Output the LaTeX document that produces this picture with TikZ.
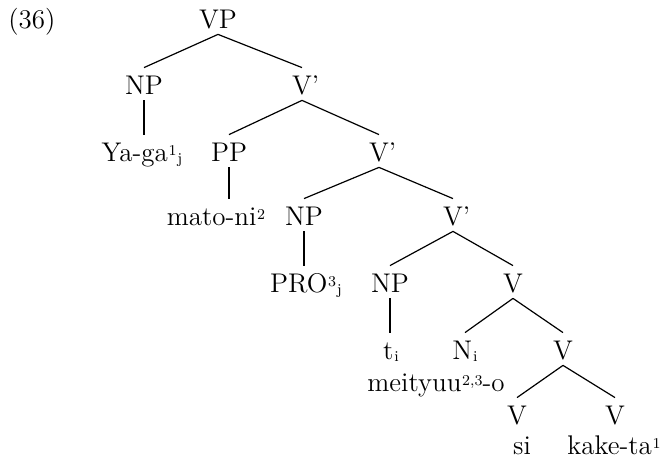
\documentclass[tikz,border=0pt]{standalone}
\usepackage{tikz}

% small raised and lowered indices
\newcommand\supidx[1]{\kern0.4pt\raisebox{3pt}{\fontsize{7.5}{8}\selectfont #1}}
\newcommand\subidx[1]{\kern0.4pt\raisebox{-1pt}{\fontsize{7.5}{8}\selectfont #1}}

\begin{document}
\begin{tikzpicture}[x=0.5pt,y=-0.5pt]

\tikzset{cat/.style={anchor=base, inner sep=0pt, text height=13.5pt, text depth=2.5pt,
                     font=\fontsize{13.5}{16}\selectfont},
         branch/.style={line width=0.6pt}}

\useasboundingbox (0,0) rectangle (665,458);

\node[cat, anchor=base west] (ex) at (8,29) {(36)};

% spine of the tree
\node[cat] (vp) at (218,29) {VP};
\node[cat] (vbar1) at (302,95) {V\rlap{'}};
\node[cat] (vbar2) at (379,162) {V\rlap{'}};
\node[cat] (vbar3) at (453,226) {V\rlap{'}};
\node[cat] (v4) at (513,293) {V};
\node[cat] (v5) at (563,360) {V};

% left daughters
\node[cat] (np1) at (144,95) {NP};
\node[cat] (yaga) at (142,162) {Ya-ga\supidx{1}\subidx{j}};
\node[cat] (pp) at (229,162) {PP};
\node[cat] (mato) at (216,226) {mato-ni\supidx{2}};
\node[cat] (np3) at (304,226) {NP};
\node[cat] (pro) at (306,293) {PRO\supidx{3}\subidx{j}};
\node[cat] (np4) at (390,293) {NP};
\node[cat] (ti) at (391,360) {t\subidx{i}};
\node[cat] (ni) at (465,360) {N\subidx{i}};
\node[cat] (mei) at (436,392) {meityuu\supidx{2,3}-o};

% verb compound
\node[cat] (va) at (517,425) {V};
\node[cat] (vb) at (615,425) {V};
\node[cat] (si) at (522,455) {si};
\node[cat] (kake) at (614,455) {kake-ta\supidx{1}};

\draw[branch] (vp.south) -- (np1.north);
\draw[branch] (vp.south) -- (vbar1.north);
\draw[branch] (np1.south) -- (np1.south |- yaga.north);
\draw[branch] (vbar1.south) -- (pp.north);
\draw[branch] (vbar1.south) -- (vbar2.north);
\draw[branch] (pp.south) -- (pp.south |- mato.north);
\draw[branch] (vbar2.south) -- (np3.north);
\draw[branch] (vbar2.south) -- (vbar3.north);
\draw[branch] (np3.south) -- (np3.south |- pro.north);
\draw[branch] (vbar3.south) -- (np4.north);
\draw[branch] (vbar3.south) -- (v4.north);
\draw[branch] (np4.south) -- (np4.south |- ti.north);
\draw[branch] (v4.south) -- (ni.north);
\draw[branch] (v4.south) -- (v5.north);
\draw[branch] (v5.south) -- (va.north);
\draw[branch] (v5.south) -- (vb.north);

\end{tikzpicture}
\end{document}
